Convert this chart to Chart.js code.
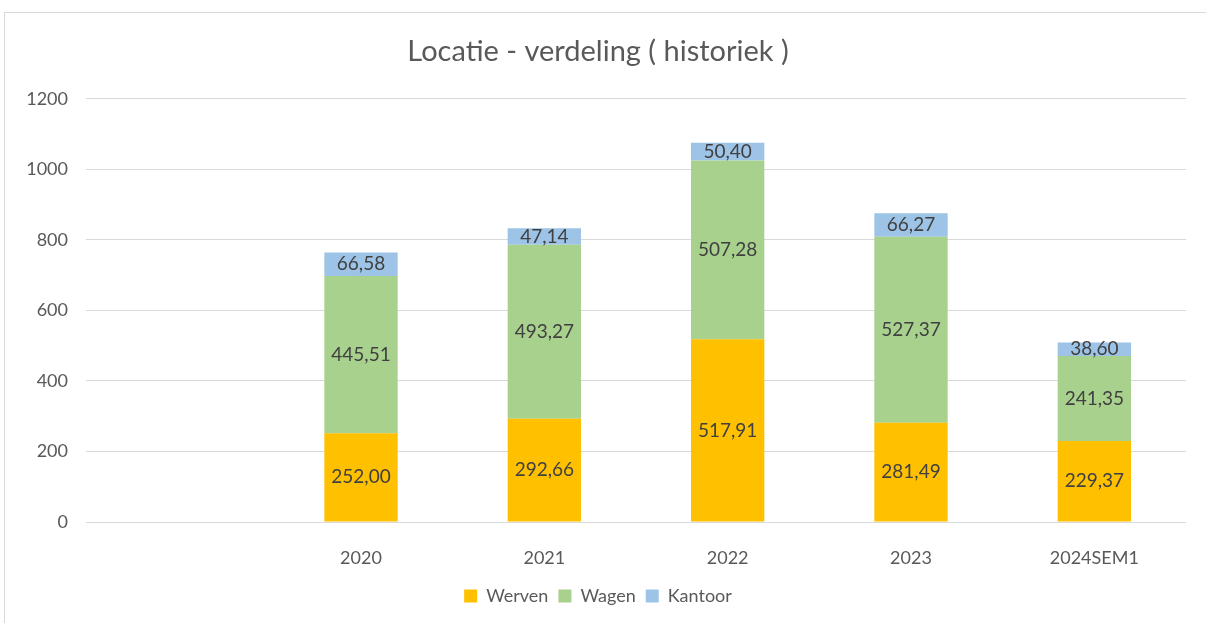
<!DOCTYPE html>
<html>
<head>
<meta charset="utf-8">
<script src="https://cdn.jsdelivr.net/npm/chart.js@4"></script>
<style>
  html, body { margin: 0; padding: 0; background: #fff; }
  #wrap { position: relative; width: 1206px; height: 623px; }
  #frame { position: absolute; left: 4px; top: 12px; width: 1210px; height: 620px; border: 1px solid #d9d9d9; box-sizing: border-box; }
  canvas { position: absolute; left: 0; top: 0; }
</style>
</head>
<body>
<div id="wrap">
  <div id="frame"></div>
  <canvas id="chart" width="1206" height="623"></canvas>
</div>
<script>
// data
const jaren = ['', '2020', '2021', '2022', '2023', '2024SEM1'];
const werven = [null, 252.00, 292.66, 517.91, 281.49, 229.37];
const wagen = [null, 445.51, 493.27, 507.28, 527.37, 241.35];
const kantoor = [null, 66.58, 47.14, 50.40, 66.27, 38.60];
const yTicks = [0, 200, 400, 600, 800, 1000, 1200];

const FONT = 'Lato, "Noto Sans", sans-serif';
const GRIJS = '#595959';

// labels in het midden van elk segment
const waardeLabels = {
    id: 'waardeLabels',
    afterDatasetsDraw(chart) {
        const ctx = chart.ctx;
        ctx.save();
        ctx.font = '19px ' + FONT;
        ctx.fillStyle = '#404040';
        ctx.textAlign = 'center';
        ctx.textBaseline = 'middle';
        chart.data.datasets.forEach((ds, i) => {
            chart.getDatasetMeta(i).data.forEach((bar, j) => {
                const v = ds.data[j];
                if (v == null) return;
                const midden = (bar.y + bar.base) / 2;
                ctx.fillText(v.toFixed(2).replace('.', ','), bar.x, midden);
            });
        });
        ctx.restore();
    }
};

new Chart(document.getElementById('chart'), {
    type: 'bar',
    data: {
        labels: jaren,
        datasets: [
            { label: 'Werven', data: werven, backgroundColor: '#FFC000' },
            { label: 'Wagen', data: wagen, backgroundColor: '#A9D18E' },
            { label: 'Kantoor', data: kantoor, backgroundColor: '#9DC3E6' }
        ]
    },
    options: {
        responsive: false,
        animation: false,
        layout: { padding: { left: 10, right: 20, top: 28, bottom: 8 } },
        datasets: { bar: { categoryPercentage: 0.8, barPercentage: 0.5 } },
        plugins: {
            title: {
                display: true,
                text: 'Locatie - verdeling ( historiek )',
                color: GRIJS,
                font: { family: FONT, size: 29, weight: 'normal' },
                padding: { top: 6, bottom: 30 }
            },
            legend: {
                position: 'bottom',
                labels: {
                    boxWidth: 13,
                    boxHeight: 13,
                    color: GRIJS,
                    font: { family: FONT, size: 18 },
                    padding: 10
                }
            },
            tooltip: { enabled: false }
        },
        scales: {
            x: {
                stacked: true,
                grid: { display: false },
                border: { display: false },
                ticks: { color: GRIJS, font: { family: FONT, size: 18 }, padding: 17 },
                afterFit(axis) { axis.height = 55; }
            },
            y: {
                stacked: true,
                min: 0,
                max: 1200,
                grid: { color: '#d9d9d9', drawTicks: false },
                border: { display: false },
                afterBuildTicks(axis) { axis.ticks = yTicks.map(v => ({ value: v })); },
                ticks: {
                    color: GRIJS,
                    font: { family: FONT, size: 18 },
                    padding: 18,
                    callback: v => String(v)
                },
                afterFit(axis) { axis.width = 76; }
            }
        }
    },
    plugins: [waardeLabels]
});
</script>
</body>
</html>
